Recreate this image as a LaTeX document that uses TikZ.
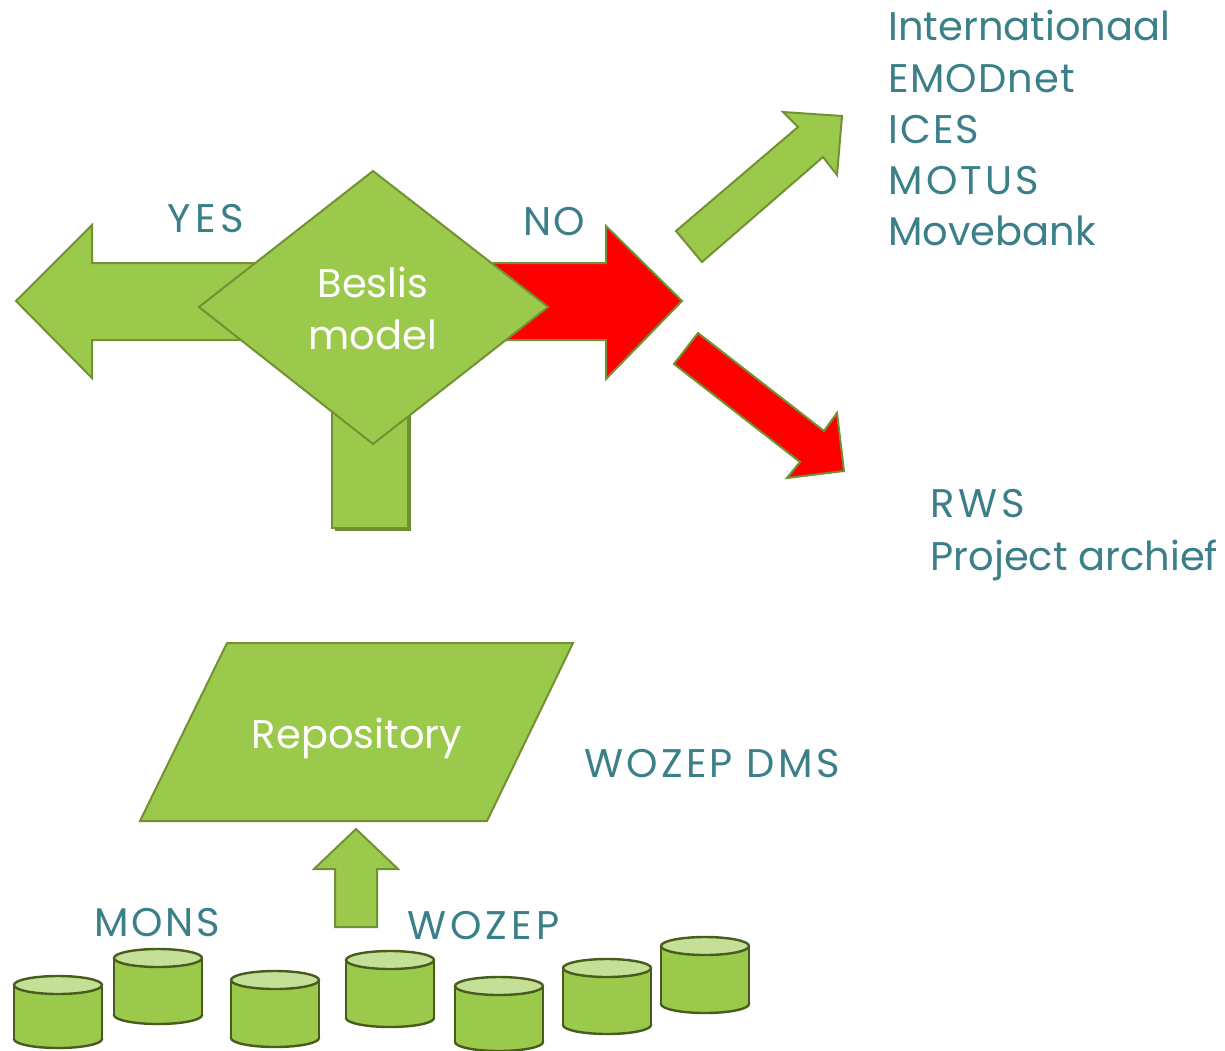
\documentclass[tikz,border=0pt]{standalone}
\usepackage{fontspec}
\setmainfont{Poppins}
\definecolor{gfill}{RGB}{155,201,75}
\definecolor{gline}{RGB}{113,145,50}
\definecolor{gshadow}{RGB}{110,140,50}
\definecolor{rfill}{RGB}{255,0,0}
\definecolor{teal}{RGB}{59,127,136}
\definecolor{ctop}{RGB}{196,224,150}
\definecolor{cline}{RGB}{72,92,30}
\tikzset{
  garrow/.style={fill=gfill,draw=gline,line width=1pt,line join=miter},
  rarrow/.style={fill=rfill,draw=gline,line width=1pt,line join=miter},
  lbl/.style={text=teal,inner sep=0pt,font=\fontsize{20}{24}\selectfont},
  caps/.style={lbl,font=\fontsize{20}{24}\selectfont\addfontfeatures{LetterSpace=#1}},
  caps/.default=8,
  wlbl/.style={text=white,inner sep=0pt,font=\fontsize{20}{24}\selectfont},
  cylside/.style={draw=cline,line width=1.2pt},
}
\newcommand{\dbcyl}[4]{% name, cx, ty, by
  \filldraw[fill=gfill,cylside] (#2,#4) ellipse (44 and 9);
  \fill[gfill] (#2-44,#3) rectangle (#2+44,#4);
  \draw[cylside] (#2-44,#3) -- (#2-44,#4) (#2+44,#3) -- (#2+44,#4);
  \filldraw[fill=ctop,cylside] (#2,#3) ellipse (44 and 9);
  \coordinate (#1) at (#2,#3);
}
\begin{document}
\begin{tikzpicture}[x=0.5pt,y=-0.5pt]
\useasboundingbox (0,0) rectangle (1225,1050);
% YES arrow (left)
\draw[garrow] (300,263) -- (92,263) -- (92,225) -- (16,301) -- (92,378) -- (92,340) -- (300,340) -- cycle;
% NO arrow (right, red)
\draw[rarrow] (440,263) -- (606,263) -- (606,226) -- (682,301) -- (606,379) -- (606,340) -- (440,340) -- cycle;
% stem below diamond
\fill[gshadow] (335,393) rectangle (411,531);
\draw[garrow] (332,390) rectangle (408,528);
% decision diamond
\draw[garrow] (373,171) -- (548,307) -- (373,444) -- (199,307) -- cycle;
\node[wlbl,anchor=base] (beslis) at (373,297) {Beslis};
\node[wlbl,anchor=base] (model) at (373,349) {model};
% diagonal arrows
\draw[garrow] (676,231) -- (798,127) -- (783,112) -- (842,116) -- (837,175) -- (823,157) -- (702,262) -- cycle;
\draw[rarrow] (698,333) -- (824,431) -- (837,413) -- (844,471) -- (787,478) -- (800,462) -- (674,364) -- cycle;
% labels
\node[caps=12,anchor=base west] (yes) at (167,232) {YES};
\node[caps=6,anchor=base west] (no) at (523,235) {NO};
\node[lbl,anchor=base west] (int) at (888,40) {Internationaal};
\node[caps=3,anchor=base west] (emod) at (888,92) {EMODnet};
\node[caps=5,anchor=base west] (ices) at (888,143) {ICES};
\node[caps=8,anchor=base west] (motus) at (888,194) {MOTUS};
\node[lbl,anchor=base west] (move) at (888,245) {Movebank};
\node[caps=10,anchor=base west] (rws) at (930,517) {RWS};
\node[lbl,anchor=base west] (proj) at (930,570) {Project archief};
% repository
\draw[garrow] (227,643) -- (573,643) -- (487,821) -- (140,821) -- cycle;
\node[wlbl,anchor=base] (repo) at (357,748) {Repository};
\node[caps=8,anchor=base west] (dms) at (584,777) {WOZEP DMS};
% small up arrow
\draw[garrow] (335,927) -- (335,869) -- (314,869) -- (356,829) -- (398,869) -- (377,869) -- (377,927) -- cycle;
\node[caps=7,anchor=base west] (mons) at (94,936) {MONS};
\node[caps=10,anchor=base west] (wozep) at (407,939) {WOZEP};
% databases
\dbcyl{c1}{58}{985}{1039}
\dbcyl{c2}{158}{958}{1015}
\dbcyl{c3}{275}{980}{1038}
\dbcyl{c4}{390}{960}{1018}
\dbcyl{c5}{499}{986}{1042}
\dbcyl{c6}{607}{968}{1025}
\dbcyl{c7}{705}{946}{1004}
\end{tikzpicture}
\end{document}
